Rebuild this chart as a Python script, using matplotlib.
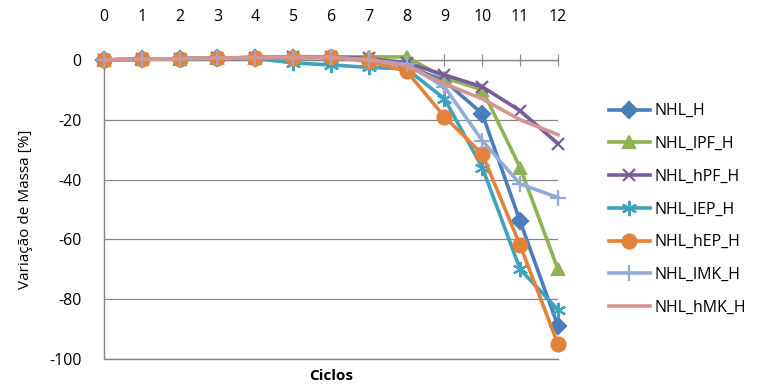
import numpy as np
import matplotlib.pyplot as plt

plt.rcParams['font.family'] = ['Open Sans', 'DejaVu Sans']
plt.rcParams['axes.unicode_minus'] = False

ciclos = list(range(13))

nhl_h   = [0, 0.2, 0.4, 0.6, 0.8, 0.8, 0.8, 0.0, -2.0, -7.0, -18.0, -54.0, -89.0]
nhl_lpf = [0, 0.2, 0.4, 0.6, 0.8, 0.9, 1.0, 1.0, 1.0, -6.0, -10.0, -36.0, -70.0]
nhl_hpf = [0, 0.2, 0.4, 0.6, 0.8, 0.9, 1.0, 0.5, -1.0, -5.0, -9.0, -17.0, -28.0]
nhl_lep = [0, 0.2, 0.4, 0.5, 0.5, -1.0, -1.7, -2.5, -3.0, -13.0, -36.0, -70.0, -83.5]
nhl_hep = [0, 0.2, 0.4, 0.6, 0.8, 0.8, 0.9, -0.5, -3.8, -19.0, -31.5, -62.0, -95.0]
nhl_lmk = [0, 0.2, 0.4, 0.6, 0.8, 0.8, 0.9, 0.0, -1.5, -9.0, -27.0, -41.5, -46.0]
nhl_hmk = [0, 0.2, 0.4, 0.6, 0.8, 0.8, 0.8, 0.0, -2.0, -8.0, -13.0, -20.0, -25.0]

series = [
    ("NHL_H", nhl_h, "#4A7EBB", "D", 8),
    ("NHL_lPF_H", nhl_lpf, "#8DB354", "^", 9),
    ("NHL_hPF_H", nhl_hpf, "#7A5C9E", "x", 9),
    ("NHL_lEP_H", nhl_lep, "#3FA3BD", (6, 2, 0), 11),
    ("NHL_hEP_H", nhl_hep, "#E3823A", "o", 10),
    ("NHL_lMK_H", nhl_lmk, "#93ACD6", "+", 11),
    ("NHL_hMK_H", nhl_hmk, "#D59592", None, 0),
]

fig = plt.figure(figsize=(7.71, 3.84), dpi=100)
ax = fig.add_axes([0.1349, 0.065, 0.5888, 0.779])

for name, vals, col, mk, ms in series:
    ax.plot(ciclos, vals, color=col, lw=2.6, marker=mk, ms=ms,
            mew=1.6, label=name, clip_on=False, zorder=3)

ax.set_xlim(0, 12)
ax.set_ylim(-100, 0)
ax.set_yticks(np.arange(-100, 1, 20))
ax.set_xticks(ciclos)

ax.xaxis.tick_top()
ax.tick_params(axis='x', which='both', direction='inout', length=8,
               color='#868686', pad=21, labelsize=11.5)
ax.tick_params(axis='y', length=0, pad=16, labelsize=11.5)
ax.grid(axis='y', color='#868686', lw=0.9)
ax.set_axisbelow(True)

ax.spines['right'].set_visible(False)
for side in ['left', 'top', 'bottom']:
    ax.spines[side].set_color('#868686')
    ax.spines[side].set_linewidth(1.0)

ax.set_ylabel("Variação de Massa [%]", fontsize=11, labelpad=12)
ax.set_xlabel("Ciclos", fontsize=11, fontweight='bold', labelpad=7)
ax.xaxis.set_label_position('bottom')

ax.legend(loc='center left', bbox_to_anchor=(1.08, 0.5), frameon=False,
          fontsize=11.5, handlelength=2.6, labelspacing=1.05, handletextpad=0.3)

fig.savefig("out.png", dpi=100)
